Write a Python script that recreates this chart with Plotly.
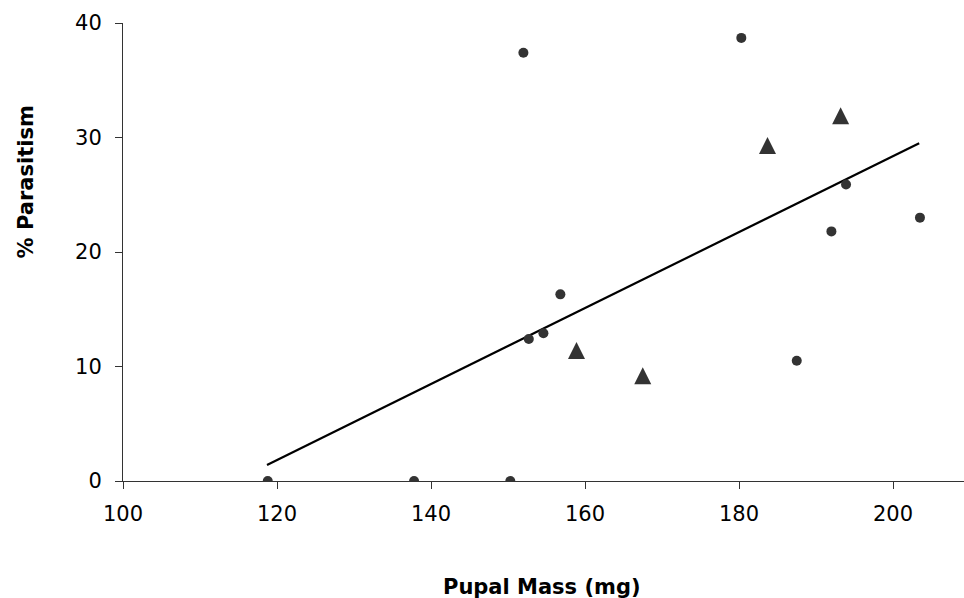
import plotly.graph_objects as go

# Data
circle_mass = [118.8, 137.8, 150.3, 152.7, 154.6, 156.8, 152.0, 180.3, 187.5, 192.0, 193.9, 203.5]
circle_pct = [0.0, 0.0, 0.0, 12.4, 12.9, 16.3, 37.4, 38.7, 10.5, 21.8, 25.9, 23.0]
tri_mass = [158.9, 167.5, 183.7, 193.2]
tri_pct = [11.4, 9.2, 29.3, 31.9]
trend_mass = [118.7, 203.4]
trend_pct = [1.4, 29.5]
x_ticks = [100, 120, 140, 160, 180, 200]
y_ticks = [0, 10, 20, 30, 40]

W, H = 964, 598
ML, MR, MT, MB = 123, 0, 23, 117
plot_h = H - MT - MB
y_range = [0, 40]
px_per_unit = plot_h / (y_range[1] - y_range[0])
tri_size = 17
shift = (tri_size / 2) / px_per_unit  # centre the arrow-shaped triangle on its value

fig = go.Figure()
fig.add_trace(go.Scatter(x=trend_mass, y=trend_pct, mode="lines",
                         line=dict(color="#000000", width=2.2), showlegend=False,
                         hoverinfo="skip"))
fig.add_trace(go.Scatter(x=circle_mass, y=circle_pct, mode="markers",
                         marker=dict(symbol="circle", size=10, color="#333333",
                                     line=dict(width=0)), showlegend=False))
fig.add_trace(go.Scatter(x=tri_mass, y=tri_pct, mode="markers", yaxis="y2",
                         marker=dict(symbol="arrow-up", size=tri_size, color="#333333",
                                     line=dict(width=0)), showlegend=False))

font_fam = "DejaVu Sans, Arial, sans-serif"
axis_common = dict(showline=True, linecolor="#333333", linewidth=1, ticks="outside",
                   ticklen=7, tickwidth=1, tickcolor="#333333", showgrid=False,
                   zeroline=False, tickfont=dict(family=font_fam, size=21, color="#000000"))

fig.update_layout(
    width=W, height=H,
    margin=dict(l=ML, r=MR, t=MT, b=MB, pad=0),
    paper_bgcolor="white", plot_bgcolor="white",
    xaxis=dict(range=[100, 100 + (W - ML - MR) / 7.7], tickvals=x_ticks,
               ticktext=[str(v) for v in x_ticks], ticklabelstandoff=7, **axis_common),
    yaxis=dict(range=y_range, tickvals=y_ticks, ticktext=[str(v) for v in y_ticks],
               ticklabelstandoff=9, **axis_common),
    yaxis2=dict(range=[y_range[0] - shift, y_range[1] - shift], overlaying="y",
                visible=False, showgrid=False, zeroline=False),
    annotations=[
        dict(text="<b>Pupal Mass (mg)</b>", xref="paper", yref="paper",
             x=(541.7 - ML) / (W - ML - MR), y=(481 - 586.7) / plot_h,
             xanchor="center", yanchor="middle", showarrow=False,
             font=dict(family=font_fam, size=21, color="#000000")),
        dict(text="<b>% Parasitism</b>", xref="paper", yref="paper",
             x=(25.7 - ML) / (W - ML - MR), y=(481 - 181.7) / plot_h,
             xanchor="center", yanchor="middle", textangle=-90, showarrow=False,
             font=dict(family=font_fam, size=21, color="#000000")),
    ],
)

fig.write_html("out.html", config={"displayModeBar": False},
               post_script="document.body.style.margin='0';document.body.style.overflow='hidden';")
